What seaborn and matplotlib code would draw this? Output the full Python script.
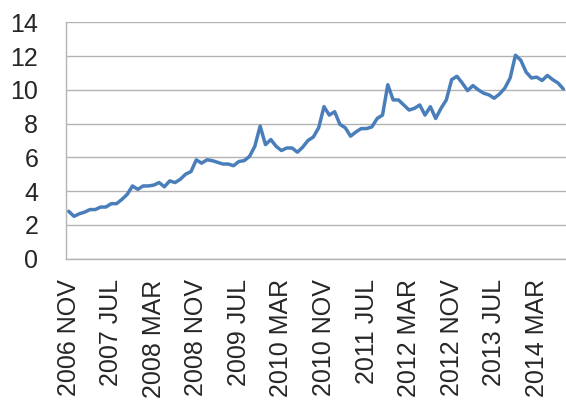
import numpy as np
import pandas as pd
import seaborn as sns
import matplotlib.pyplot as plt

# Monthly series, 2006 NOV .. 2014 AUG
values = [2.8, 2.5, 2.65, 2.75, 2.9, 2.9, 3.05, 3.05, 3.25, 3.25,
          3.5, 3.8, 4.3, 4.1, 4.3, 4.3, 4.35, 4.5, 4.25, 4.6,
          4.5, 4.7, 5.0, 5.15, 5.85, 5.65, 5.85, 5.8, 5.7, 5.6,
          5.6, 5.5, 5.75, 5.8, 6.05, 6.65, 7.85, 6.75, 7.05, 6.65,
          6.4, 6.55, 6.55, 6.3, 6.6, 7.0, 7.2, 7.75, 9.0, 8.5,
          8.7, 7.95, 7.75, 7.25, 7.5, 7.7, 7.7, 7.8, 8.3, 8.5,
          10.3, 9.4, 9.4, 9.1, 8.8, 8.9, 9.1, 8.5, 9.0, 8.3,
          8.9, 9.4, 10.6, 10.8, 10.4, 9.95, 10.25, 10.0, 9.8, 9.7,
          9.5, 9.75, 10.1, 10.7, 12.05, 11.75, 11.05, 10.7, 10.75, 10.55,
          10.85, 10.6, 10.4, 10.05]

tick_labels = ['2006 NOV', '2007 JUL', '2008 MAR', '2008 NOV', '2009 JUL', '2010 MAR',
               '2010 NOV', '2011 JUL', '2012 MAR', '2012 NOV', '2013 JUL', '2014 MAR']
y_ticks = [0, 2, 4, 6, 8, 10, 12, 14]

df = pd.DataFrame({'month': np.arange(len(values)), 'value': values})

sns.set_style('white')
plt.rcParams['font.family'] = ['Liberation Sans', 'DejaVu Sans']

fig = plt.figure(figsize=(5.66, 4.03), dpi=100)
ax = fig.add_axes([66 / 566, 1 - 258.5 / 403, 1 - 66 / 566, (258.5 - 22.3) / 403])

sns.lineplot(data=df, x='month', y='value', ax=ax, color='#4a7ebb', linewidth=2.5)

grid_color = '#b3b3b3'
ax.set_xlim(-0.5, len(values) - 0.5)
ax.set_ylim(0, 14)
ax.set_yticks(y_ticks)
ax.yaxis.grid(True, color=grid_color, linewidth=1)
ax.set_axisbelow(True)

ax.set_xticks(np.arange(0, len(values), 8))
ax.set_xticklabels(tick_labels, rotation=90)
ax.set_xticks(np.arange(-0.5, len(values), 1), minor=True)
ax.tick_params(axis='x', which='major', length=0, pad=15, labelsize=18)
ax.tick_params(axis='x', which='minor', length=4, color=grid_color, width=0.8)
ax.tick_params(axis='y', length=6.5, color=grid_color, width=1, pad=13.5, labelsize=18)

for s in ['top', 'right']:
    ax.spines[s].set_visible(False)
for s in ['left', 'bottom']:
    ax.spines[s].set_color(grid_color)
    ax.spines[s].set_linewidth(1)

ax.set_xlabel('')
ax.set_ylabel('')

fig.savefig('out.png', dpi=100)
